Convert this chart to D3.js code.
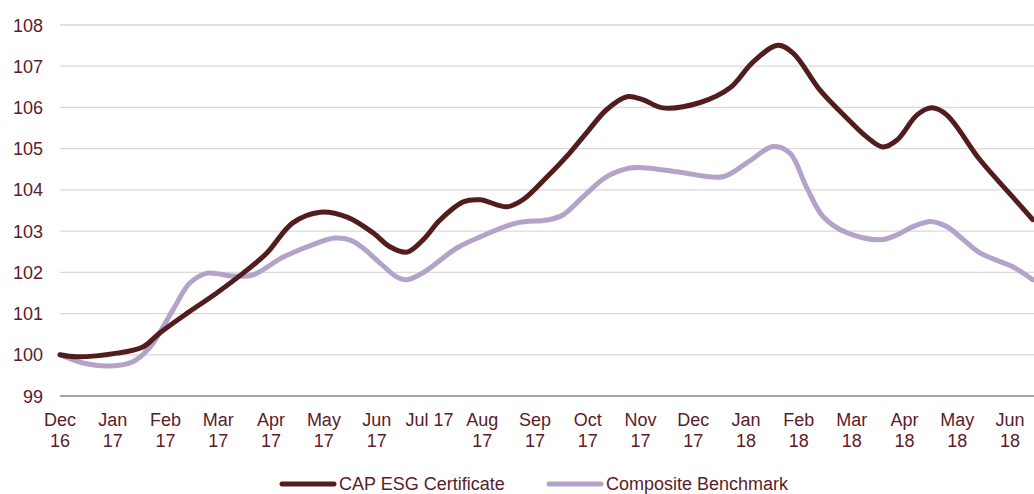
<!DOCTYPE html>
<html>
<head>
<meta charset="utf-8">
<script src="https://cdn.jsdelivr.net/npm/d3@7"></script>
<style>
  html, body { margin: 0; padding: 0; background: #fff; overflow: hidden; }
  svg { display: block; font-family: "Liberation Sans", Arial, sans-serif; }
</style>
</head>
<body>
<div id="chart-area"></div>
<script>
// month labels, one per month starting Dec 16
var monthLabels = ["Dec 16", "Jan 17", "Feb 17", "Mar 17", "Apr 17", "May 17", "Jun 17", "Jul 17", "Aug 17", "Sep 17",
    "Oct 17", "Nov 17", "Dec 17", "Jan 18", "Feb 18", "Mar 18", "Apr 18", "May 18", "Jun 18"];
var yTicks = [99, 100, 101, 102, 103, 104, 105, 106, 107, 108];
var seriesNames = ["CAP ESG Certificate", "Composite Benchmark"];

// positions in months since Dec 16
var capMonths = [0, 0.32, 1.08, 1.57, 1.89, 2.41, 2.97, 3.47, 3.92, 4.41, 4.93, 5.44, 5.93, 6.25, 6.57, 6.88,
    7.2, 7.64, 7.96, 8.47, 8.77, 9.23, 9.66, 9.98, 10.36, 10.74, 11.04, 11.42, 12.13, 12.69, 13.13, 13.6,
    13.89, 14.4, 14.91, 15.29, 15.59, 15.86, 16.24, 16.52, 16.8, 17.43, 18.05, 18.43];
var capValues = [100.0, 99.95, 100.04, 100.19, 100.53, 101.01, 101.5, 101.98, 102.47, 103.2, 103.46, 103.34,
    102.96, 102.62, 102.49, 102.79, 103.27, 103.71, 103.76, 103.59, 103.76, 104.32, 104.9, 105.39, 105.95,
    106.26, 106.19, 105.99, 106.12, 106.47, 107.1, 107.51, 107.32, 106.42, 105.74, 105.28, 105.04, 105.21,
    105.82, 105.99, 105.82, 104.73, 103.83, 103.28];

var benchMonths = [0, 0.44, 0.95, 1.38, 1.71, 2.14, 2.46, 2.79, 3.28, 3.66, 4.23, 4.87, 5.21, 5.5, 5.74, 6.06,
    6.38, 6.57, 6.88, 7.52, 7.96, 8.66, 9.23, 9.53, 9.91, 10.36, 10.8, 11.12, 11.74, 12.56, 13.02, 13.51,
    13.83, 14.15, 14.46, 14.91, 15.54, 15.86, 16.16, 16.52, 16.8, 17.11, 17.43, 18.06, 18.43];
var benchValues = [100.0, 99.8, 99.73, 99.83, 100.19, 101.09, 101.74, 101.98, 101.91, 101.94, 102.37, 102.71,
    102.83, 102.78, 102.59, 102.23, 101.89, 101.82, 101.99, 102.59, 102.86, 103.2, 103.27, 103.39, 103.83,
    104.32, 104.53, 104.53, 104.43, 104.32, 104.66, 105.05, 104.89, 104.05, 103.35, 102.96, 102.79, 102.91,
    103.11, 103.23, 103.11, 102.8, 102.47, 102.13, 101.82];

var width = 1034, height = 494;
var textColor = "#5b1b29";
var colors = ["#531d1d", "#b3a3c9"];
var fontSize = "18px";

var svg = d3.select("#chart-area").append("svg")
    .attr("width", width)
    .attr("height", height);

var x = d3.scaleLinear().domain([0, 18]).range([60, 1010]);
var y = d3.scaleLinear().domain([99, 108]).range([396, 25]);

// gridlines
svg.append("g")
    .selectAll("line")
    .data(yTicks)
    .enter().append("line")
    .attr("x1", 60).attr("x2", width)
    .attr("y1", d => y(d)).attr("y2", d => y(d))
    .attr("stroke", d => d === 99 ? "#868686" : "#d9d9d9")
    .attr("stroke-width", 1.3);

// y labels
svg.append("g")
    .selectAll("text")
    .data(yTicks)
    .enter().append("text")
    .attr("x", 43)
    .attr("y", d => y(d) + 6.5)
    .attr("text-anchor", "end")
    .attr("font-size", fontSize)
    .attr("fill", textColor)
    .text(d => d);

// x labels, wrapped when too wide
var xLabels = svg.append("g")
    .selectAll("text")
    .data(monthLabels)
    .enter().append("text")
    .attr("x", (d, i) => x(i))
    .attr("y", 426)
    .attr("text-anchor", "middle")
    .attr("font-size", fontSize)
    .attr("fill", textColor)
    .text(d => d);

xLabels.each(function(d, i) {
    var t = d3.select(this);
    if (this.getComputedTextLength() > 51) {
        var parts = d.split(" ");
        t.text(null);
        t.append("tspan").attr("x", x(i)).attr("y", 426).text(parts[0]);
        t.append("tspan").attr("x", x(i)).attr("y", 447).text(parts[1]);
    }
});

var line = d3.line()
    .x(d => x(d[0]))
    .y(d => y(d[1]))
    .curve(d3.curveCatmullRom.alpha(0.5));

var benchData = d3.zip(benchMonths, benchValues);
var capData = d3.zip(capMonths, capValues);

svg.append("path")
    .datum(benchData)
    .attr("d", line)
    .attr("fill", "none")
    .attr("stroke", colors[1])
    .attr("stroke-width", 5)
    .attr("stroke-linecap", "round");

svg.append("path")
    .datum(capData)
    .attr("d", line)
    .attr("fill", "none")
    .attr("stroke", colors[0])
    .attr("stroke-width", 5)
    .attr("stroke-linecap", "round");

// legend
var legendX = [280, 547];
var legend = svg.append("g");
seriesNames.forEach((name, i) => {
    var g = legend.append("g").attr("transform", `translate(${legendX[i]}, 484)`);
    g.append("line")
        .attr("x1", 2).attr("x2", 54)
        .attr("stroke", colors[i])
        .attr("stroke-width", 5)
        .attr("stroke-linecap", "round");
    g.append("text")
        .attr("x", 59)
        .attr("y", 5.5)
        .attr("font-size", fontSize)
        .attr("fill", textColor)
        .text(name);
});
</script>
</body>
</html>
